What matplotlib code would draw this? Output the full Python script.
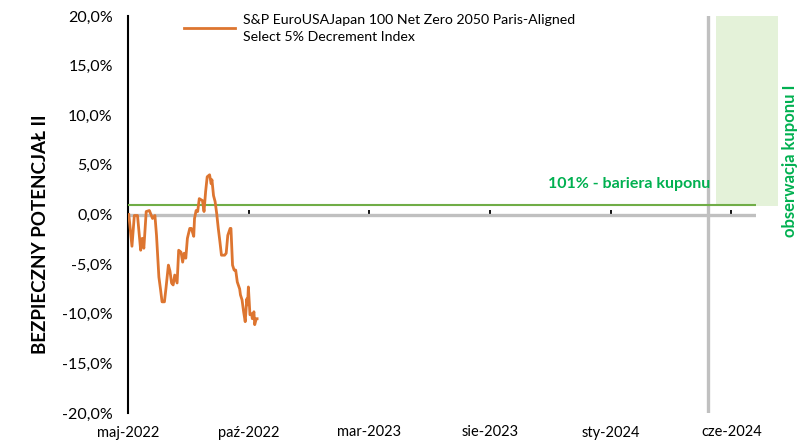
import pandas as pd
import matplotlib
matplotlib.use("Agg")
from matplotlib import pyplot as plt
from matplotlib.patches import Rectangle
from matplotlib.ticker import FuncFormatter

plt.rcParams["font.family"] = ["Lato", "DejaVu Sans"]

# index path, relative to start (in %)
dates = [
    "2022-05-02", "2022-05-06", "2022-05-09", "2022-05-13", "2022-05-17", "2022-05-19",
    "2022-05-21", "2022-05-24", "2022-05-28", "2022-06-01", "2022-06-04", "2022-06-06",
    "2022-06-09", "2022-06-11", "2022-06-13", "2022-06-16", "2022-06-18", "2022-06-21",
    "2022-06-23", "2022-06-25", "2022-06-27", "2022-06-29", "2022-07-02", "2022-07-04",
    "2022-07-07", "2022-07-09", "2022-07-11", "2022-07-13", "2022-07-15", "2022-07-18",
    "2022-07-20", "2022-07-23", "2022-07-24", "2022-07-26", "2022-07-28", "2022-07-30",
    "2022-08-03", "2022-08-05", "2022-08-07", "2022-08-09", "2022-08-12", "2022-08-14",
    "2022-08-15", "2022-08-17", "2022-08-19", "2022-08-21", "2022-08-23", "2022-08-25",
    "2022-08-27", "2022-08-31", "2022-09-02", "2022-09-04", "2022-09-07", "2022-09-08",
    "2022-09-10", "2022-09-12", "2022-09-14", "2022-09-16", "2022-09-19", "2022-09-20",
    "2022-09-22", "2022-09-24", "2022-09-26", "2022-09-28", "2022-09-29", "2022-09-30",
    "2022-10-02", "2022-10-04", "2022-10-05", "2022-10-07", "2022-10-08", "2022-10-10",
    "2022-10-11",
]
values = [
    0.0, -3.2, -0.1, -0.1, -3.6, -2.4,
    -3.4, 0.3, 0.4, -0.4, -0.1, -2.1,
    -6.3, -7.5, -8.8, -8.8, -7.4, -5.1,
    -5.7, -6.9, -7.1, -6.1, -6.9, -3.6,
    -3.8, -4.8, -3.9, -4.4, -2.4, -1.4,
    -1.4, -2.2, -0.4, 0.4, 0.3, 1.6,
    1.4, 0.3, 2.3, 3.8, 4.0, 3.1,
    3.5, 1.9, 1.3, 0.1, -1.4, -2.7,
    -4.1, -4.1, -3.9, -2.1, -1.4, -1.4,
    -5.1, -5.6, -5.6, -6.8, -7.5, -8.1,
    -8.6, -9.8, -10.8, -8.5, -9.1, -7.3,
    -10.1, -10.0, -10.5, -9.8, -11.1, -10.5,
    -10.5,
]

index_name = "S&P EuroUSAJapan 100 Net Zero 2050 Paris-Aligned\nSelect 5% Decrement Index"
barrier = 1.0
observation_date = "2024-05-03"
window_start, window_end = "2024-05-13", "2024-07-30"

tick_dates = ["2022-05-01", "2022-10-01", "2023-03-01", "2023-08-01", "2024-01-01", "2024-06-01"]
tick_labels = ["maj-2022", "paź-2022", "mar-2023", "sie-2023", "sty-2024", "cze-2024"]

ORANGE = "#DD7530"
GREEN_LINE = "#70AD47"
GREEN_TEXT = "#00B050"
GRAY = "#C0C0C0"

fig = plt.figure(figsize=(7.97, 4.42), dpi=100)
ax = fig.add_axes([128 / 797, 1 - 413 / 442, (756 - 128) / 797, (413 - 16) / 442])

x = pd.to_datetime(dates)
ax.plot(x, values, color=ORANGE, lw=2.0, zorder=4, label=index_name)

ax.set_xlim(pd.Timestamp("2022-05-01"), pd.Timestamp("2024-07-02"))
ax.set_ylim(-20, 20)

# observation window shading (runs past the plot edge)
ws = matplotlib.dates.date2num(pd.Timestamp(window_start))
we = matplotlib.dates.date2num(pd.Timestamp(window_end))
ax.add_patch(Rectangle((ws, 0.9), we - ws, 20 - 0.9, facecolor="#E4F2D9",
                       edgecolor="none", clip_on=False, zorder=0))

ax.axvline(pd.Timestamp(observation_date), color=GRAY, lw=2.4, zorder=1)
ax.axhline(0, color=GRAY, lw=2.4, zorder=2)
ax.axhline(barrier, color=GREEN_LINE, lw=1.5, zorder=3)

# y axis
ax.yaxis.set_major_formatter(FuncFormatter(lambda v, p: f"{v:.1f}%".replace(".", ",")))
ax.set_yticks(range(-20, 21, 5))
ax.tick_params(axis="y", length=0, pad=11, labelsize=11.5)
ax.set_ylabel("BEZPIECZNY POTENCJAŁ II", fontsize=13.5, fontweight="bold")
ax.yaxis.set_label_coords(-0.125, 0.45)

# labels along the bottom, small ticks on the zero line
ax.set_xticks(pd.to_datetime(tick_dates))
ax.set_xticklabels(tick_labels)
ax.tick_params(axis="x", length=0, pad=9, labelsize=10.5)

zero_axis = ax.secondary_xaxis(0.5)
zero_axis.set_xticks(pd.to_datetime(tick_dates))
zero_axis.set_xticklabels([])
zero_axis.tick_params(axis="x", length=3, width=1.3, color="black", direction="out")
for s in zero_axis.spines.values():
    s.set_visible(False)

for side in ["top", "right", "bottom"]:
    ax.spines[side].set_visible(False)
ax.spines["left"].set_color("black")
ax.spines["left"].set_linewidth(1.5)

ax.text(pd.Timestamp("2024-05-05"), 2.4, "101% - bariera kuponu", color=GREEN_TEXT,
        fontsize=11.5, fontweight="bold", ha="right", va="bottom")
fig.text(790 / 797, 1 - 161 / 442, "obserwacja kuponu I", color=GREEN_TEXT, fontsize=12,
         fontweight="bold", rotation=90, ha="center", va="center")

leg = ax.legend(loc="upper left", bbox_to_anchor=(178 / 797, 1 - 8 / 442),
                bbox_transform=fig.transFigure, frameon=False, fontsize=10.2,
                handlelength=3.6, handletextpad=0.6, borderaxespad=0)
for t in leg.get_texts():
    t.set_linespacing(1.55)

fig.savefig("out.png", dpi=100)
